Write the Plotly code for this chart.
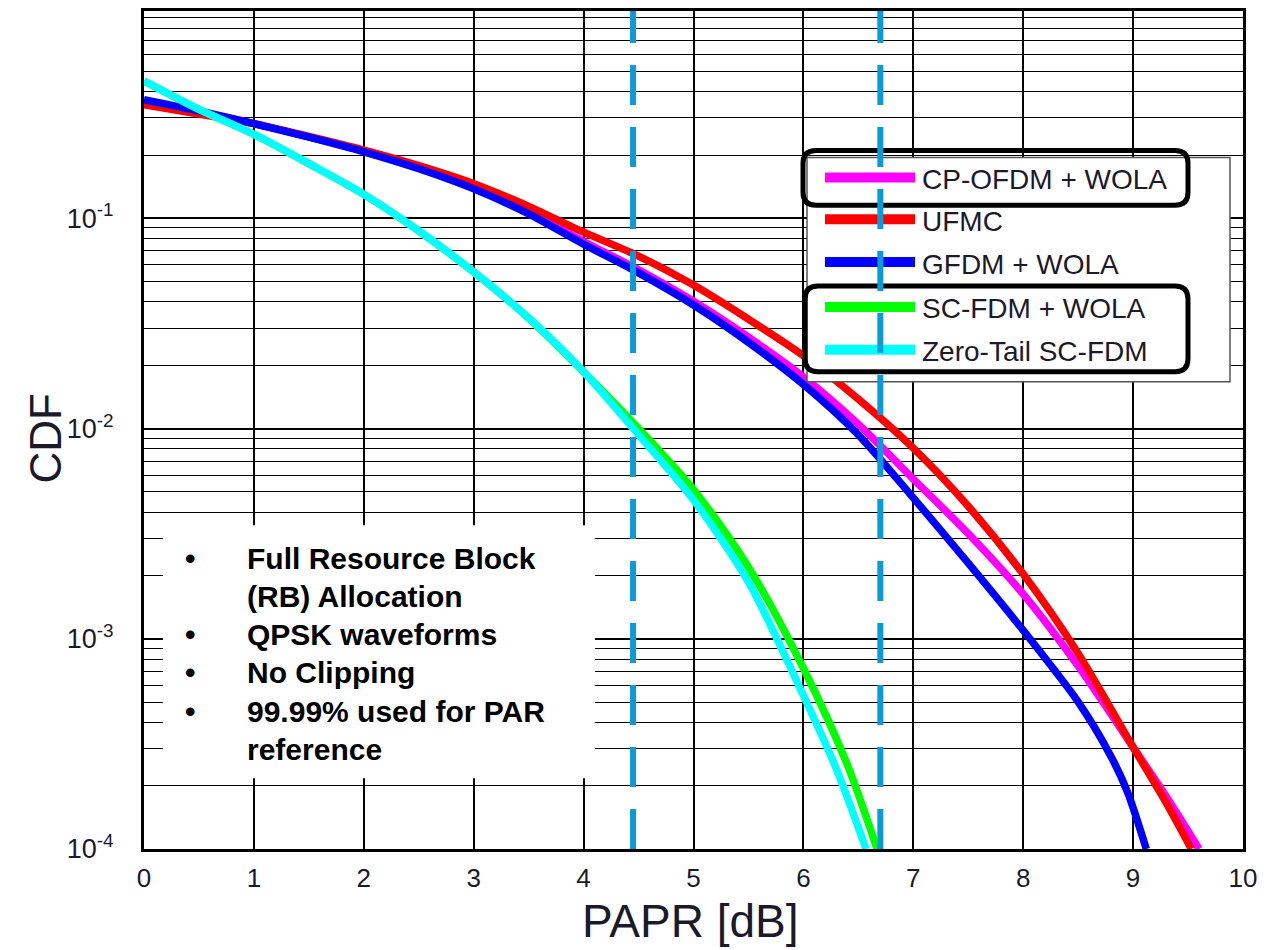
import math
import plotly.graph_objects as go

# ---------------- data ----------------
series_names = ["CP-OFDM + WOLA", "UFMC", "GFDM + WOLA", "SC-FDM + WOLA", "Zero-Tail SC-FDM"]
series_colors = ["#FF00FF", "#FF0000", "#0000FF", "#00FF00", "#00FFFF"]

papr_cp_ofdm = [0, 0.5, 1, 1.5, 2, 2.5, 3, 3.5, 4, 4.5, 5, 5.5, 6, 6.5, 7, 7.5, 8, 8.5, 9, 9.3, 9.6]
cdf_cp_ofdm = [0.363, 0.320, 0.282, 0.244, 0.209, 0.174, 0.140, 0.107, 0.0776, 0.0569, 0.0403,
               0.0272, 0.0176, 0.01047, 0.00575, 0.00316, 0.00163, 0.000741, 0.000305, 0.000178, 0.0001]

papr_ufmc = [0, 0.5, 1, 1.5, 2, 2.5, 3, 3.5, 4, 4.5, 5, 5.5, 6, 6.5, 7, 7.5, 8, 8.5, 9, 9.3, 9.53]
cdf_ufmc = [0.347, 0.313, 0.282, 0.245, 0.211, 0.178, 0.146, 0.114, 0.0859, 0.0661, 0.0481,
            0.0331, 0.0222, 0.0138, 0.00807, 0.00427, 0.00203, 0.000851, 0.000305, 0.000166, 0.0001]

papr_gfdm = [0, 0.5, 1, 1.5, 2, 2.5, 3, 3.5, 4, 4.5, 5, 5.5, 6, 6.5, 7, 7.5, 8, 8.5, 8.8, 8.95, 9.12]
cdf_gfdm = [0.367, 0.324, 0.282, 0.243, 0.207, 0.172, 0.138, 0.105, 0.0753, 0.0550, 0.0387,
            0.0257, 0.0162, 0.00933, 0.00468, 0.00229, 0.001096, 0.000501, 0.000275, 0.000186, 0.0001]

papr_sc_fdm = [0, 0.5, 1, 1.5, 2, 2.5, 3, 3.5, 4, 4.5, 5, 5.5, 6, 6.4, 6.67]
cdf_sc_fdm = [0.450, 0.330, 0.251, 0.182, 0.130, 0.0871, 0.0555, 0.0335, 0.0186, 0.0100,
              0.00513, 0.00219, 0.000724, 0.000251, 0.0001]

papr_zt_sc_fdm = [0, 0.5, 1, 1.5, 2, 2.5, 3, 3.5, 4, 4.5, 5, 5.5, 6, 6.3, 6.57]
cdf_zt_sc_fdm = [0.450, 0.330, 0.251, 0.182, 0.130, 0.0871, 0.0555, 0.0335, 0.0186, 0.00933,
                 0.00457, 0.00186, 0.000537, 0.000240, 0.0001]

ref_cdf = 1e-2            # horizontal dashed reference
ref_papr = [4.45, 6.7]    # vertical dashed references

x_ticks = list(range(0, 11))
x_tick_labels = [str(v) for v in x_ticks]
y_ticks = [1e-4, 1e-3, 1e-2, 1e-1]
y_tick_labels = ["10<sup>-4</sup>", "10<sup>-3</sup>", "10<sup>-2</sup>", "10<sup>-1</sup>"]

bullet_lines = ["Full Resource Block", "(RB) Allocation", "QPSK waveforms",
                "No Clipping", "99.99% used for PAR", "reference"]
bullet_flags = [True, False, True, True, True, False]

# ---------------- layout helpers (pixel -> paper) ----------------
W, H = 1281, 950
PL, PR, PT, PB = 144, 1243, 8, 849


def px(x):
    return (x - PL) / (PR - PL)


def py(y):
    return (PB - y) / (PB - PT)


FONT = "Arial, Liberation Sans, sans-serif"
TXT = "#1a1a2a"

fig = go.Figure()
xs = [papr_cp_ofdm, papr_ufmc, papr_gfdm, papr_sc_fdm, papr_zt_sc_fdm]
ys = [cdf_cp_ofdm, cdf_ufmc, cdf_gfdm, cdf_sc_fdm, cdf_zt_sc_fdm]
for name, col, x, y in zip(series_names, series_colors, xs, ys):
    fig.add_trace(go.Scatter(x=x, y=y, name=name, mode="lines",
                             line=dict(color=col, width=7.5, shape="spline", smoothing=0.8),
                             showlegend=False))

minor_vals = [m * 10.0 ** e for e in range(-4, 0) for m in range(2, 10)]

fig.update_layout(
    width=W, height=H,
    margin=dict(l=PL, r=W - PR, t=PT, b=H - PB),
    paper_bgcolor="white", plot_bgcolor="white",
    showlegend=False,
    font=dict(family=FONT, color=TXT, size=26),
    xaxis=dict(range=[0, 10], tickvals=x_ticks, ticktext=x_tick_labels,
               showgrid=True, gridcolor="black", gridwidth=1.5, zeroline=False,
               showline=True, linecolor="black", linewidth=3, mirror=True,
               ticks="", tickfont=dict(size=26, family=FONT, color=TXT),
               ticklabelstandoff=4),
    yaxis=dict(type="log", range=[-4, -0.014], tickvals=y_ticks, ticktext=y_tick_labels,
               showgrid=True, gridcolor="black", gridwidth=1.5, zeroline=False,
               showline=True, linecolor="black", linewidth=3, mirror=True,
               ticks="", tickfont=dict(size=27, family=FONT, color=TXT),
               ticklabelstandoff=22,
               minor=dict(tickvals=minor_vals, showgrid=True, gridcolor="black",
                          gridwidth=1.3, ticks="")),
)

shapes = []
# white text panel and legend background (cover the grid)
shapes.append(dict(type="rect", xref="paper", yref="paper", x0=px(163), x1=px(595),
                   y0=py(778), y1=py(524), fillcolor="white", line=dict(width=0), layer="above"))
shapes.append(dict(type="rect", xref="paper", yref="paper", x0=px(807), x1=px(1230),
                   y0=py(380), y1=py(155), fillcolor="white",
                   line=dict(color="#555555", width=1.5), layer="above"))

# legend swatches + labels
leg_y = [175, 217, 260, 305, 348]
annotations = []
for name, col, yy in zip(series_names, series_colors, leg_y):
    shapes.append(dict(type="line", xref="paper", yref="paper", x0=px(825), x1=px(915),
                       y0=py(yy), y1=py(yy), line=dict(color=col, width=10), layer="above"))
    annotations.append(dict(xref="paper", yref="paper", x=px(920), y=py(yy + 2),
                            xanchor="left", yanchor="middle", showarrow=False, text=name,
                            font=dict(size=28, family=FONT, color=TXT)))


def rounded(x0, y0, x1, y1, r):
    pts = [("M", x0 + r, y0), ("L", x1 - r, y0), ("Q", x1, y0, x1, y0 + r),
           ("L", x1, y1 - r), ("Q", x1, y1, x1 - r, y1), ("L", x0 + r, y1),
           ("Q", x0, y1, x0, y1 - r), ("L", x0, y0 + r), ("Q", x0, y0, x0 + r, y0)]
    s = ""
    for p in pts:
        coords = p[1:]
        parts = [f"{px(coords[i]):.5f},{py(coords[i + 1]):.5f}" for i in range(0, len(coords), 2)]
        s += p[0] + " " + " ".join(parts) + " "
    return s + "Z"


for box in [(803, 148, 1188, 203), (805, 284, 1188, 370)]:
    shapes.append(dict(type="path", xref="paper", yref="paper", path=rounded(*box, 13),
                       line=dict(color="black", width=5), fillcolor="rgba(0,0,0,0)",
                       layer="above"))

# dashed reference lines
dash_col = "#0A9BDB"
for xv in ref_papr:
    shapes.append(dict(type="line", xref="x", yref="paper", x0=xv, x1=xv, y0=0, y1=1,
                       line=dict(color=dash_col, width=6, dash="40px,22px"), layer="above"))
shapes.append(dict(type="line", xref="paper", yref="y", x0=0, x1=1.004,
                   y0=math.log10(ref_cdf), y1=math.log10(ref_cdf),
                   line=dict(color=dash_col, width=6, dash="40px,20px"), layer="above"))

# bullet text
line_y = [557, 596, 634, 672, 711, 749]
for txt, flag, yy in zip(bullet_lines, bullet_flags, line_y):
    if flag:
        annotations.append(dict(xref="paper", yref="paper", x=px(190), y=py(yy),
                                xanchor="center", yanchor="middle", showarrow=False,
                                text="<b>•</b>", font=dict(size=30, family=FONT, color="black")))
    annotations.append(dict(xref="paper", yref="paper", x=px(245), y=py(yy),
                            xanchor="left", yanchor="middle", showarrow=False,
                            text=f"<b>{txt}</b>", font=dict(size=30, family=FONT, color="black")))

# axis titles
annotations.append(dict(xref="paper", yref="paper", x=px(45), y=py(437), xanchor="center",
                        yanchor="middle", textangle=-90, showarrow=False, text="CDF",
                        font=dict(size=44, family=FONT, color=TXT)))
annotations.append(dict(xref="paper", yref="paper", x=px(690), y=py(921), xanchor="center",
                        yanchor="middle", showarrow=False, text="PAPR [dB]",
                        font=dict(size=46, family=FONT, color=TXT)))

fig.update_layout(shapes=shapes, annotations=annotations)
fig.write_html("out.html")
